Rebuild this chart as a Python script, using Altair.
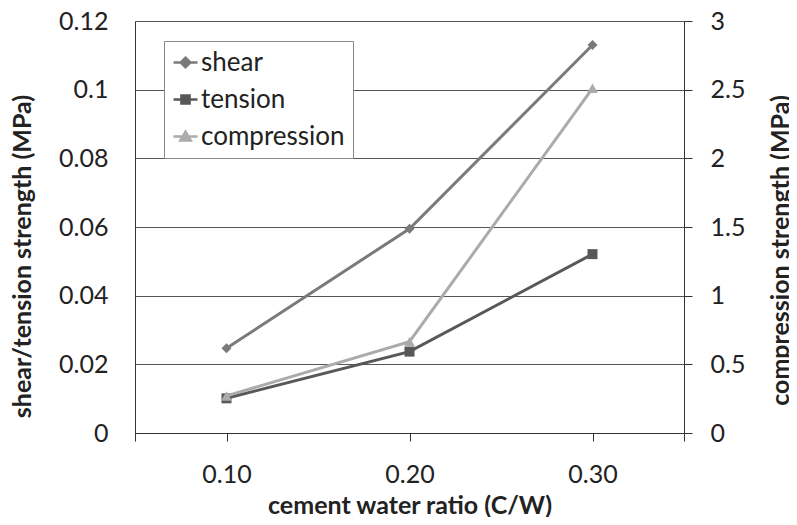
import altair as alt
import pandas as pd

ratios = [0.10, 0.20, 0.30]
shear = [0.0247, 0.0595, 0.1130]
tension = [0.0101, 0.0237, 0.0521]
compression = [0.27, 0.665, 2.51]
series_names = ["shear", "tension", "compression"]
series_colors = ["#7a7a7a", "#585858", "#ababab"]
series_shapes = ["diamond", "square", "triangle-up"]
series_sizes = [100, 100, 120]
left_ticks = [0, 0.02, 0.04, 0.06, 0.08, 0.1, 0.12]
right_ticks = [0, 0.5, 1, 1.5, 2, 2.5, 3]
x_ticks = [0.05, 0.10, 0.20, 0.30, 0.35]

rows = []
for name, vals in zip(series_names, [shear, tension, compression]):
    for r, v in zip(ratios, vals):
        rows.append({"ratio": r, "series": name, "value": v})
df = pd.DataFrame(rows)

FONT = "Lato"
FS = 25

# legend symbols: a short line with the marker in its middle (Excel style)
legend_paths = [
    "M-1,0L1,0M0,-0.4L0.4,0L0,0.4L-0.4,0Z",
    "M-1,0L1,0M-0.34,-0.34L0.34,-0.34L0.34,0.34L-0.34,0.34Z",
    "M-1,0L1,0M0,-0.4L0.44,0.34L-0.44,0.34Z",
]

legend = alt.Legend(
    title=None, orient="none", legendX=29, legendY=20, padding=8,
    strokeColor="#888888", fillColor="white",
    labelFont=FONT, labelFontSize=26, labelColor="#222222",
    symbolSize=576, symbolStrokeWidth=2.5, symbolOpacity=1,
    rowPadding=10, labelOffset=2,
)

legend_color_scale = alt.Scale(domain=series_names, range=series_colors)
path_scale = alt.Scale(domain=series_names, range=legend_paths)

x_enc = alt.X(
    "ratio:Q",
    scale=alt.Scale(domain=[0.05, 0.35], nice=False, zero=False),
    axis=alt.Axis(
        values=x_ticks,
        labelExpr="datum.value > 0.06 && datum.value < 0.34 ? format(datum.value, '.2f') : ''",
        title="cement water ratio (C/W)", grid=False, tickSize=8, tickColor="#333333",
        domainColor="#333333", labelFont=FONT, labelFontSize=FS, labelColor="#222222",
        labelPadding=21, titleFont=FONT, titleFontSize=FS, titleFontWeight="bold",
        titleColor="#222222", titleY=72, titleBaseline="middle",
    ),
)

y_left = alt.Y(
    "value:Q",
    scale=alt.Scale(domain=[0, 0.12], nice=False),
    axis=alt.Axis(
        orient="left", values=left_ticks, labelExpr="format(datum.value, '.2~f')",
        ticks=False, tickSize=0,
        grid=True, gridColor="#555555", gridWidth=1, domainColor="#333333",
        labelFont=FONT, labelFontSize=FS, labelColor="#222222", labelPadding=27,
        title="shear/tension strength (MPa)", titleFont=FONT, titleFontSize=FS,
        titleFontWeight="bold", titleColor="#222222", titleAngle=270,
        titleX=-113, titleY=235, titleBaseline="middle", titleAlign="center",
    ),
)

y_right = alt.Y(
    "value:Q",
    scale=alt.Scale(domain=[0, 3], nice=False),
    axis=alt.Axis(
        orient="right", values=right_ticks, labelExpr="format(datum.value, '.1~f')",
        ticks=True, tickSize=8,
        tickColor="#333333", grid=False, domainColor="#333333",
        labelFont=FONT, labelFontSize=FS, labelColor="#222222", labelPadding=18,
        title="compression strength (MPa)", titleFont=FONT, titleFontSize=FS,
        titleFontWeight="bold", titleColor="#222222", titleAngle=270,
        titleX=96, titleY=229, titleBaseline="middle", titleAlign="center",
    ),
)

base = alt.Chart(df)


def series_layers(idx, y_enc):
    name = series_names[idx]
    d = base.transform_filter(alt.FieldEqualPredicate(field="series", equal=name))
    line = d.mark_line(strokeWidth=3, color=series_colors[idx]).encode(x=x_enc, y=y_enc)
    pts = d.mark_point(filled=True, opacity=1, size=series_sizes[idx],
                       shape=series_shapes[idx], color=series_colors[idx]).encode(x=x_enc, y=y_enc)
    return line, pts


s_line, s_pts = series_layers(0, y_left)
t_line, t_pts = series_layers(1, y_left)
c_line, c_pts = series_layers(2, y_right)

# invisible layer whose only job is to carry the legend
legend_layer = base.mark_point(filled=True, size=1, opacity=0, strokeWidth=2.5).encode(
    x=x_enc,
    y=y_left,
    shape=alt.Shape("series:N", scale=path_scale, legend=legend),
    fill=alt.Fill("series:N", scale=legend_color_scale, legend=legend),
    stroke=alt.Stroke("series:N", scale=legend_color_scale, legend=legend),
)

left = alt.layer(s_line, t_line, s_pts, t_pts, legend_layer)
right = alt.layer(c_line, c_pts)

chart = alt.layer(left, right).resolve_scale(y="independent").properties(
    width=549, height=412,
    autosize=alt.AutoSizeParams(type="none"),
    padding={"left": 127, "top": 13, "right": 105, "bottom": 84},
).configure_view(stroke="#333333", strokeWidth=1).configure(background="white")

chart.save("out.html", embed_options={"renderer": "svg", "actions": False})
